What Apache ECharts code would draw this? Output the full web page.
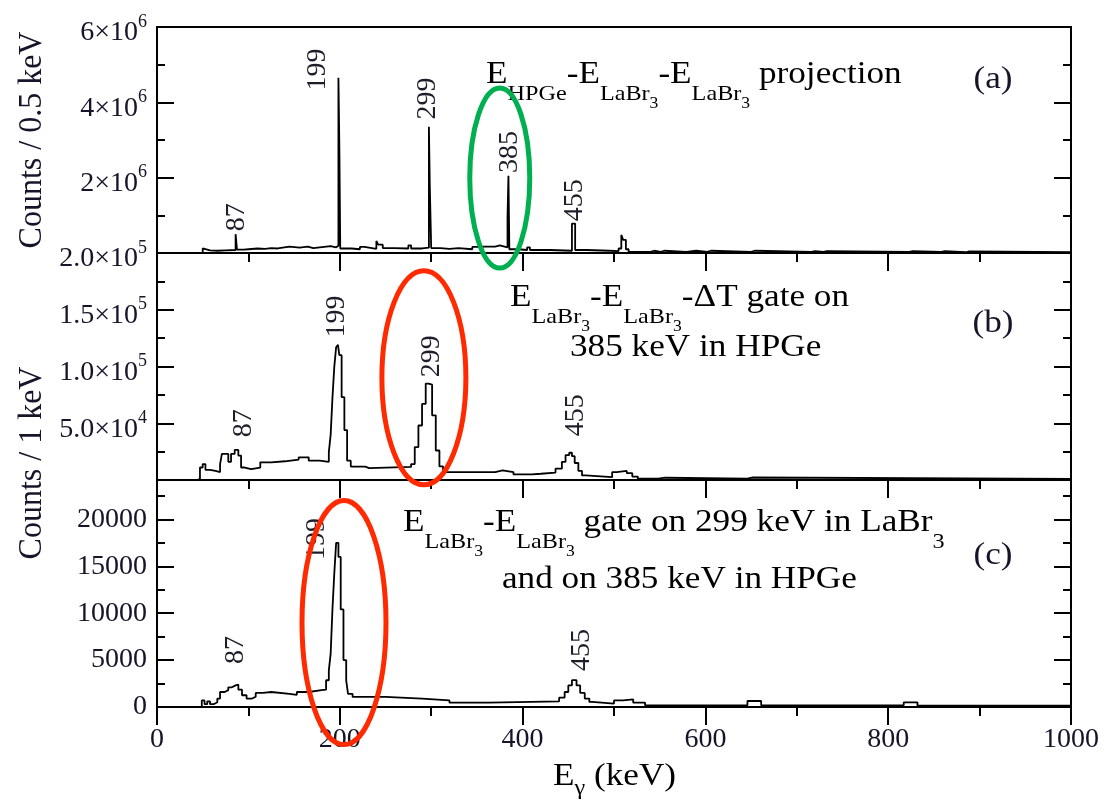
<!DOCTYPE html>
<html><head><meta charset="utf-8">
<script src="https://cdn.jsdelivr.net/npm/echarts@6/dist/echarts.min.js"></script>
<style>html,body{margin:0;padding:0;background:#fff}#c{width:1116px;height:804px}</style>
</head><body><div id="c"></div>
<script>
const FONT = '"Liberation Serif","Times New Roman",serif';
const TXT = '#15152a';

// ---------- Panel (a): E_HPGe projection, counts / 0.5 keV (bin left edges) ----------
const aEnergy = [45,50,51,58,66,75,86,87.5,95,100,110,118,125,132,145,156,165,171,190,196,198.5,199.5,200.5,213,222,227,240,242,247,260,275,278,290,297.5,298.5,300,310,320,330,345,352,356,370,375,383.5,384.5,385.5,395,405,408,430,454,457.5,470,495,505,508,510,513,516,540,544,551,555,579,590,602,606,650,654,716,720,729,733,823,827,858,862,885,888,1000];
const aCounts = [0,0.12e6,0.07e6,0.06e6,0.07e6,0.08e6,0.5e6,0.09e6,0.1e6,0.12e6,0.11e6,0.13e6,0.12e6,0.17e6,0.14e6,0.17e6,0.13e6,0.18e6,0.15e6,0.19e6,4.65e6,2.84e6,0.12e6,0.1e6,0.16e6,0.11e6,0.32e6,0.22e6,0.13e6,0.12e6,0.2e6,0.12e6,0.14e6,3.35e6,1.73e6,0.13e6,0.11e6,0.13e6,0.1e6,0.16e6,0.11e6,0.17e6,0.2e6,0.15e6,0.95e6,2.05e6,0.1e6,0.08e6,0.15e6,0.08e6,0.06e6,0.78e6,0.08e6,0.06e6,0.05e6,0.12e6,0.48e6,0.35e6,0.1e6,0.03e6,0.06e6,0.03e6,0.06e6,0.03e6,0.06e6,0.03e6,0.06e6,0.03e6,0.06e6,0.03e6,0.05e6,0.03e6,0.05e6,0.03e6,0.05e6,0.03e6,0.05e6,0.02e6,0.04e6,0.02e6,0.02e6];

// ---------- Panel (b): LaBr3-LaBr3-dT gate on 385 keV, counts / 1 keV ----------
const bEnergy = [40,44,47,50,53,58,64,69,71,78,81,85,89,92,96,103,113,125,140,155,166,178,188,190,192,194,196,198,199.5,202,205,208,212,228,232,278,282,286,290,294,297,301,305,309,313,370,378,390,410,420,436,443,447,451,454,457,461,465,469,498,503,514,520,526,548,556,646,652,1000];
const bCounts = [0,1000,11000,14000,9000,8000,7000,14000,23000,16000,23000,26500,21500,11000,9500,11000,15600,16500,18000,20000,17000,16000,24500,40000,73000,100000,117000,119000,110000,73000,44000,17000,11800,10500,11500,14000,29000,48000,67000,85000,84000,57000,26000,12000,7000,8500,7000,5000,5500,6500,10000,16000,22000,24000,21000,15000,8000,4000,2500,7000,8000,6000,3000,1200,2000,1200,2200,1000,1000];

// ---------- Panel (c): gate on 299 keV (LaBr3) and 385 keV (HPGe), counts / 1 keV ----------
const cEnergy = [45,49,52,55,58,62,66,69,74,78,82,86,89,93,98,104,108,116,125,145,153,166,180,185,188,190,192,194,196,198.5,201,204,207,209,214,250,290,320,363,440,446,450,454,459,463,468,473,476,500,510,521,534,646,661,817,832,1000];
const cCounts = [0,700,300,600,300,500,900,1600,1800,2100,2300,2400,1850,1250,900,1100,1500,1600,1400,1300,1600,1800,1850,2850,3900,5700,10500,14300,17500,16000,10400,5000,2850,1400,1070,900,700,460,600,1000,1600,2300,2860,2300,1500,900,540,360,700,820,460,180,640,180,500,150,150];

// ---------- tick labels ----------
const xTickValues = [0,200,400,600,800,1000];
const xTickLabels = ['0','200','400','600','800','1000'];
const aTickValues = [2e6,4e6,6e6];
const aTickLabels = ['2×10^6','4×10^6','6×10^6'];
const bTickValues = [5e4,1e5,1.5e5,2e5];
const bTickLabels = ['5.0×10^4','1.0×10^5','1.5×10^5','2.0×10^5'];
const cTickValues = [0,5000,10000,15000,20000];
const cTickLabels = ['0','5000','10000','15000','20000'];

// ---------- peak labels (text, energy, count position of label centre) ----------
const aPeakText = ['87','199','299','385','455'];
const aPeakE = [87,176,296,386,457];
const aPeakY = [0.95e6,4.87e6,4.1e6,2.68e6,1.4e6];
const bPeakText = ['87','199','299','455'];
const bPeakE = [95,197,300,458];
const bPeakY = [50000,144000,109000,57000];
const cPeakText = ['87','199','455'];
const cPeakE = [86.5,175,465];
const cPeakY = [6080,17900,6080];

// ---------- highlight ellipses (grid, energy, count of centre) ----------
const ellGrid = [0,1,2];
const ellE = [375,292,204.6];
const ellY = [1.99e6,90000,9000];
const ellRx = [30,42,42];
const ellRy = [90,107,122];
const ellColor = ['#00b050','#ff2a00','#ff2a00'];

function labelFmt(vals, labels) {
  return function (v) {
    const i = vals.findIndex(t => Math.abs(t - v) <= 1e-6 * Math.max(1, Math.abs(t)));
    if (i < 0) return '';
    const s = labels[i];
    const k = s.indexOf('^');
    return k < 0 ? '{p|' + s + '}' : '{m|' + s.slice(0, k) + '}{s|' + s.slice(k + 1) + '}';
  };
}
const richY = {
  p: {fontSize: 28, fontFamily: FONT, color: TXT},
  m: {fontSize: 28, fontFamily: FONT, color: TXT, padding: [12, 0, 0, 0]},
  s: {fontSize: 18, fontFamily: FONT, color: TXT, padding: [0, 0, 10, 0]}
};

const grids = [
  {left: 157, top: 27, width: 914, height: 226},
  {left: 157, top: 253, width: 914, height: 227},
  {left: 157, top: 480, width: 914, height: 227}
].map(g => Object.assign(g, {show: true, borderColor: '#000', borderWidth: 2, backgroundColor: 'transparent', containLabel: false, outerBoundsMode: 'none'}));

const xAxes = [0, 1, 2].map(i => ({
  type: 'value', gridIndex: i, min: 0, max: 1000, interval: 200,
  axisLine: {show: true, lineStyle: {color: '#000', width: 2}},
  axisTick: {show: true, inside: false, length: 18, lineStyle: {color: '#000', width: 2}},
  minorTick: {show: true, splitNumber: 2, length: 9, lineStyle: {color: '#000', width: 2}},
  splitLine: {show: false},
  axisLabel: {show: i === 2, margin: 19, formatter: labelFmt(xTickValues, xTickLabels), rich: richY, fontSize: 28, fontFamily: FONT, color: TXT}
}));

const yDefs = [
  {max: 6e6, interval: 2e6, vals: aTickValues, labs: aTickLabels},
  {max: 2e5, interval: 5e4, vals: bTickValues, labs: bTickLabels},
  {max: 24200, interval: 5000, vals: cTickValues, labs: cTickLabels}
];
const yAxes = [];
yDefs.forEach((d, i) => {
  [false, true].forEach(right => {
    yAxes.push({
      type: 'value', gridIndex: i, min: 0, max: d.max, interval: d.interval,
      position: right ? 'right' : 'left',
      axisLine: {show: true, lineStyle: {color: '#000', width: 2}},
      axisTick: {show: true, inside: true, length: 17, lineStyle: {color: '#000', width: 2}},
      minorTick: {show: true, splitNumber: 2, length: 8, lineStyle: {color: '#000', width: 2}},
      splitLine: {show: false},
      axisLabel: {show: !right, margin: 10, formatter: labelFmt(d.vals, d.labs), rich: richY, fontSize: 28, fontFamily: FONT, color: TXT}
    });
  });
});

function series(i, E, C) {
  return {
    type: 'line', xAxisIndex: i, yAxisIndex: 2 * i, step: 'end', symbol: 'none', animation: false,
    lineStyle: {color: '#000', width: 1.8},
    data: E.map((e, k) => [e, C[k]])
  };
}

const chart = echarts.init(document.getElementById('c'), null, {renderer: 'canvas'});
chart.setOption({
  backgroundColor: '#fff',
  animation: false,
  grid: grids,
  xAxis: xAxes,
  yAxis: yAxes,
  series: [series(0, aEnergy, aCounts), series(1, bEnergy, bCounts), series(2, cEnergy, cCounts)]
});

const toPx = (g, x, y) => chart.convertToPixel({gridIndex: g}, [x, y]);
const graphics = [];

// peak labels (rotated)
[[aPeakText, aPeakE, aPeakY], [bPeakText, bPeakE, bPeakY], [cPeakText, cPeakE, cPeakY]].forEach((p, g) => {
  p[0].forEach((t, k) => {
    const q = toPx(g, p[1][k], p[2][k]);
    graphics.push({type: 'text', x: q[0], y: q[1], rotation: Math.PI / 2, z: 10,
      style: {text: t, fontSize: 28, fontFamily: FONT, fill: '#1e1e2a', align: 'center', verticalAlign: 'middle'}});
  });
});

// ellipses
ellGrid.forEach((g, k) => {
  const q = toPx(g, ellE[k], ellY[k]);
  graphics.push({type: 'ellipse', z: 20, shape: {cx: q[0], cy: q[1], rx: ellRx[k], ry: ellRy[k]},
    style: {fill: null, stroke: ellColor[k], lineWidth: 5}});
});

const richT = {
  m: {fontSize: 32, fontFamily: FONT, color: TXT, verticalAlign: 'middle'},
  s: {fontSize: 22, fontFamily: FONT, color: TXT, verticalAlign: 'middle', padding: [38, 0, 0, 0]},
  ss: {fontSize: 16, fontFamily: FONT, color: TXT, verticalAlign: 'middle', padding: [58, 0, 0, 0]},
  g: {fontSize: 22, fontFamily: FONT, color: TXT, verticalAlign: 'middle', padding: [22, 0, 0, 0]}
};
function rtext(x, y, str, extra) {
  return Object.assign({type: 'text', x: x, y: y, scaleX: 1.1, z: 15,
    style: {text: str, rich: richT, align: 'left', verticalAlign: 'middle', fontFamily: FONT}}, extra || {});
}
graphics.push(rtext(486, 75, '{m|E}{s|HPGe}{m|-E}{s|LaBr}{ss|3}{m|-E}{s|LaBr}{ss|3}{m| projection}'));
graphics.push(rtext(510, 298, '{m|E}{s|LaBr}{ss|3}{m|-E}{s|LaBr}{ss|3}{m|-ΔT gate on}'));
graphics.push(rtext(570, 348, '{m|385 keV in HPGe}'));
graphics.push(rtext(403, 523, '{m|E}{s|LaBr}{ss|3}{m|-E}{s|LaBr}{ss|3}{m| gate on 299 keV in LaBr}{s|3}'));
graphics.push(rtext(502, 580, '{m|and on 385 keV in HPGe}'));
graphics.push(rtext(553, 777, '{m|E}{g|γ}{m| (keV)}'));

// panel labels
[['(a)', 80], ['(b)', 324], ['(c)', 556]].forEach(p => {
  graphics.push({type: 'text', x: 993, y: p[1], scaleX: 1.1, z: 15,
    style: {text: p[0], fontSize: 32, fontFamily: FONT, fill: TXT, align: 'center', verticalAlign: 'middle'}});
});

// y-axis titles
[['Counts / 0.5 keV', 140], ['Counts / 1 keV', 463]].forEach(p => {
  graphics.push({type: 'text', x: 32, y: p[1], rotation: Math.PI / 2, scaleY: 1.08, z: 15,
    style: {text: p[0], fontSize: 32, fontFamily: FONT, fill: TXT, align: 'center', verticalAlign: 'middle'}});
});

chart.setOption({graphic: graphics});
</script>
</body></html>
